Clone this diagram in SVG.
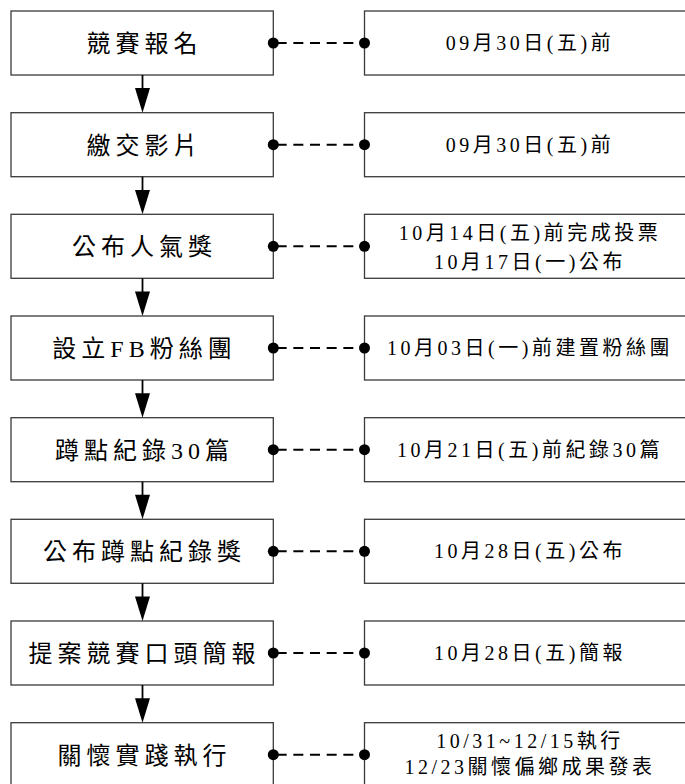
<svg xmlns="http://www.w3.org/2000/svg" width="685" height="784" viewBox="0 0 685 784">
<defs>
<style>
.box{fill:#fff;stroke:#3a3a3a;stroke-width:1.3}
.lt{font-family:"Liberation Serif","Noto Sans CJK TC",serif;font-size:24px;letter-spacing:5px;text-anchor:middle;fill:#000}
.rt{font-family:"Liberation Serif","Noto Sans CJK TC",serif;font-size:20px;letter-spacing:3.5px;text-anchor:middle;fill:#000}
.arr{stroke:#000;stroke-width:1.8;fill:none}
.dash{stroke:#000;stroke-width:2;stroke-dasharray:10 6.67;fill:none}
.dot{fill:#000}
.head{fill:#000}
</style>
</defs>
<rect width="685" height="784" fill="#fff"/>
<g id="step1"><rect class="box" x="11" y="11" width="262.3" height="64"/><text class="lt" x="144.5" y="52">競賽報名</text></g>
<g id="step2"><rect class="box" x="11" y="112.7" width="262.3" height="64"/><text class="lt" x="144.5" y="153.7">繳交影片</text></g>
<g id="step3"><rect class="box" x="11" y="214.3" width="262.3" height="64"/><text class="lt" x="144.5" y="255.3">公布人氣獎</text></g>
<g id="step4"><rect class="box" x="11" y="316" width="262.3" height="64"/><text class="lt" x="144.5" y="357">設立FB粉絲團</text></g>
<g id="step5"><rect class="box" x="11" y="417.7" width="262.3" height="64"/><text class="lt" x="144.5" y="458.7">蹲點紀錄30篇</text></g>
<g id="step6"><rect class="box" x="11" y="519.3" width="262.3" height="64"/><text class="lt" x="144.5" y="560.3">公布蹲點紀錄獎</text></g>
<g id="step7"><rect class="box" x="11" y="621" width="262.3" height="64"/><text class="lt" x="144.5" y="662">提案競賽口頭簡報</text></g>
<g id="step8"><rect class="box" x="11" y="722.7" width="262.3" height="64"/><text class="lt" x="144.5" y="763.7">關懷實踐執行</text></g>
<g id="date1"><rect class="box" x="364.5" y="11" width="330" height="64"/><text class="rt" x="530" y="50">09月30日(五)前</text></g>
<g id="date2"><rect class="box" x="364.5" y="112.7" width="330" height="64"/><text class="rt" x="530" y="151.7">09月30日(五)前</text></g>
<g id="date3"><rect class="box" x="364.5" y="214.3" width="330" height="64"/><text class="rt" x="530" y="239.7">10月14日(五)前完成投票</text><text class="rt" x="530" y="269.2">10月17日(一)公布</text></g>
<g id="date4"><rect class="box" x="364.5" y="316" width="330" height="64"/><text class="rt" x="530" y="355">10月03日(一)前建置粉絲團</text></g>
<g id="date5"><rect class="box" x="364.5" y="417.7" width="330" height="64"/><text class="rt" x="530" y="456.7">10月21日(五)前紀錄30篇</text></g>
<g id="date6"><rect class="box" x="364.5" y="519.3" width="330" height="64"/><text class="rt" x="530" y="558.3">10月28日(五)公布</text></g>
<g id="date7"><rect class="box" x="364.5" y="621" width="330" height="64"/><text class="rt" x="530" y="660">10月28日(五)簡報</text></g>
<g id="date8"><rect class="box" x="364.5" y="722.7" width="330" height="64"/><text class="rt" x="530" y="748.2">10/31~12/15執行</text><text class="rt" x="530" y="774.2">12/23關懷偏鄉成果發表</text></g>
<g id="connectors">
<line class="arr" x1="142.5" y1="75" x2="142.5" y2="90"/><polygon class="head" points="135,88 150,88 142.5,112.7"/>
<line class="arr" x1="142.5" y1="176.7" x2="142.5" y2="192"/><polygon class="head" points="135,190 150,190 142.5,214.3"/>
<line class="arr" x1="142.5" y1="278.3" x2="142.5" y2="293"/><polygon class="head" points="135,291.5 150,291.5 142.5,316"/>
<line class="arr" x1="142.5" y1="380" x2="142.5" y2="395"/><polygon class="head" points="135,393.2 150,393.2 142.5,417.7"/>
<line class="arr" x1="142.5" y1="481.7" x2="142.5" y2="497"/><polygon class="head" points="135,494.8 150,494.8 142.5,519.3"/>
<line class="arr" x1="142.5" y1="583.3" x2="142.5" y2="598"/><polygon class="head" points="135,596.5 150,596.5 142.5,621"/>
<line class="arr" x1="142.5" y1="685" x2="142.5" y2="700"/><polygon class="head" points="135,698.2 150,698.2 142.5,722.7"/>
<line class="dash" x1="276.67" y1="43" x2="364.5" y2="43"/><circle class="dot" cx="273.3" cy="43" r="5.5"/><circle class="dot" cx="364.5" cy="43" r="5.5"/>
<line class="dash" x1="276.67" y1="144.7" x2="364.5" y2="144.7"/><circle class="dot" cx="273.3" cy="144.7" r="5.5"/><circle class="dot" cx="364.5" cy="144.7" r="5.5"/>
<line class="dash" x1="276.67" y1="246.3" x2="364.5" y2="246.3"/><circle class="dot" cx="273.3" cy="246.3" r="5.5"/><circle class="dot" cx="364.5" cy="246.3" r="5.5"/>
<line class="dash" x1="276.67" y1="348" x2="364.5" y2="348"/><circle class="dot" cx="273.3" cy="348" r="5.5"/><circle class="dot" cx="364.5" cy="348" r="5.5"/>
<line class="dash" x1="276.67" y1="449.7" x2="364.5" y2="449.7"/><circle class="dot" cx="273.3" cy="449.7" r="5.5"/><circle class="dot" cx="364.5" cy="449.7" r="5.5"/>
<line class="dash" x1="276.67" y1="551.3" x2="364.5" y2="551.3"/><circle class="dot" cx="273.3" cy="551.3" r="5.5"/><circle class="dot" cx="364.5" cy="551.3" r="5.5"/>
<line class="dash" x1="276.67" y1="653" x2="364.5" y2="653"/><circle class="dot" cx="273.3" cy="653" r="5.5"/><circle class="dot" cx="364.5" cy="653" r="5.5"/>
<line class="dash" x1="276.67" y1="754.7" x2="364.5" y2="754.7"/><circle class="dot" cx="273.3" cy="754.7" r="5.5"/><circle class="dot" cx="364.5" cy="754.7" r="5.5"/>
</g>
</svg>
